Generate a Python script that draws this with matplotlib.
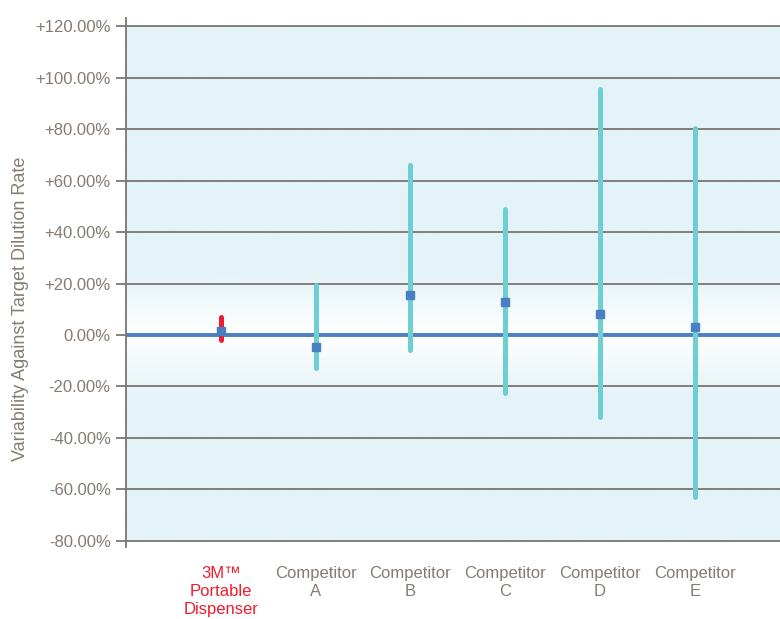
import numpy as np
import matplotlib
matplotlib.use('Agg')
import matplotlib.pyplot as plt
from matplotlib.colors import LinearSegmentedColormap

# valori (%)
categorie = ['3M\u2122\nPortable\nDispenser', 'Competitor\nA', 'Competitor\nB',
             'Competitor\nC', 'Competitor\nD', 'Competitor\nE']
minimi = [-2.0, -13.0, -6.0, -22.5, -32.0, -63.0]
massimi = [7.0, 19.5, 66.0, 49.0, 95.5, 80.5]
medie = [1.5, -4.7, 15.5, 13.0, 8.0, 3.0]
tick_y = [-80, -60, -40, -20, 0, 20, 40, 60, 80, 100, 120]

grigio = '#857b72'
azzurro = '#6ccfd4'
rosso = '#ee1c2e'
blu = '#4a7fc4'

plt.rcParams['font.family'] = ['Liberation Sans', 'DejaVu Sans']

fig = plt.figure(figsize=(7.8, 6.19), dpi=100)
ax = fig.add_axes([126/780, 1 - 547/619, 1 - 126/780, (547 - 18)/619])

xmax = 6.9
ax.set_xlim(0, xmax)
ax.set_ylim(-82.5, 123.3)

# sfondo sfumato: bianco vicino allo zero, azzurro chiaro altrove
cmap = LinearSegmentedColormap.from_list('sf', ['#ffffff', '#e4f3f8'])
yy = np.linspace(-80, 120, 400)
grad = np.clip(np.abs(yy) / 24.0, 0, 1).reshape(-1, 1)
ax.imshow(grad, extent=(0, xmax, -80, 120), origin='lower', aspect='auto',
          cmap=cmap, vmin=0, vmax=1, zorder=0)

for t in tick_y:
    if t == 0:
        continue
    ax.axhline(t, color='#7a7570', lw=1.3, zorder=1)
ax.axhline(0, color=blu, lw=2.8, zorder=2)

x = np.arange(1, len(categorie) + 1)
for i in range(len(categorie)):
    col = rosso if i == 0 else azzurro
    ax.plot([x[i], x[i]], [minimi[i], massimi[i]], color=col, lw=3.6,
            solid_capstyle='round', zorder=3)
    ax.plot(x[i], medie[i], marker='s', ms=5.5, color=blu, mec=blu, zorder=4)

for s in ['top', 'right', 'bottom']:
    ax.spines[s].set_visible(False)
ax.spines['left'].set_color('#7a7570')
ax.spines['left'].set_linewidth(1.3)

ax.set_yticks(tick_y)
ax.set_yticklabels([('+' if t > 0 else '') + '%.2f%%' % t for t in tick_y],
                   fontsize=12, color=grigio)
ax.tick_params(axis='y', length=7, width=1.3, color='#7a7570', pad=4)
ax.set_xticks([])

ax.set_ylabel('Variability Against Target Dilution Rate', fontsize=13,
              color=grigio)
ax.yaxis.set_label_coords(-0.148, 0.45)

for i, c in enumerate(categorie):
    col = rosso if i == 0 else grigio
    ax.text(x[i], -90, c, ha='center', va='top', fontsize=12,
            color=col, linespacing=1.25, clip_on=False)

fig.savefig('out.png', dpi=100)
